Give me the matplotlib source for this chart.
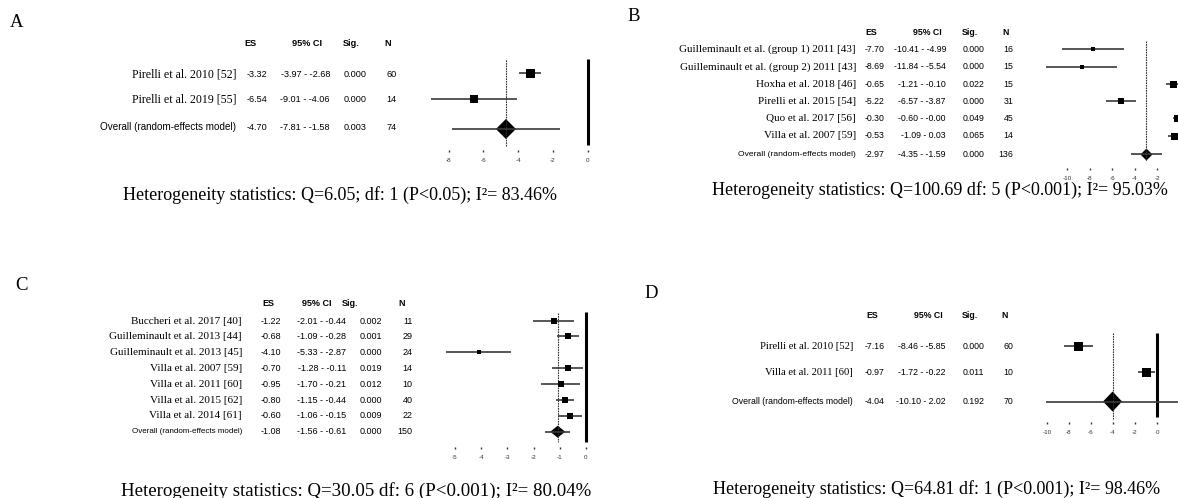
import matplotlib
matplotlib.use('Agg')
import matplotlib.pyplot as plt

W, H = 1178, 498
SERIF = 'Liberation Serif'
SANS = 'Liberation Sans'

# ---- data ----
# panel A
a_names = ['Pirelli et al. 2010 [52]', 'Pirelli et al. 2019 [55]']
a_es = [-3.32, -6.54]
a_lo = [-3.97, -9.01]
a_hi = [-2.68, -4.06]
a_sig = [0.000, 0.000]
a_n = [60, 14]
a_overall = [-4.70, -7.81, -1.58, 0.003, 74]
a_het = 'Heterogeneity statistics: Q=6.05; df: 1 (P<0.05); I²= 83.46%'
a_ticks = [-8, -6, -4, -2, 0]

# panel B
b_names = ['Guilleminault et al. (group 1) 2011 [43]',
           'Guilleminault et al. (group 2) 2011 [43]',
           'Hoxha et al. 2018 [46]', 'Pirelli et al. 2015 [54]',
           'Quo et al. 2017 [56]', 'Villa et al. 2007 [59]']
b_es = [-7.70, -8.69, -0.65, -5.22, -0.30, -0.53]
b_lo = [-10.41, -11.84, -1.21, -6.57, -0.60, -1.09]
b_hi = [-4.99, -5.54, -0.10, -3.87, -0.0, 0.03]
b_sig = [0.000, 0.000, 0.022, 0.000, 0.049, 0.065]
b_n = [16, 15, 15, 31, 45, 14]
b_overall = [-2.97, -4.35, -1.59, 0.000, 136]
b_het = 'Heterogeneity statistics: Q=100.69 df: 5 (P<0.001); I²= 95.03%'
b_ticks = [-10, -8, -6, -4, -2]

# panel C
c_names = ['Buccheri et al. 2017 [40]', 'Guilleminault et al. 2013 [44]',
           'Guilleminault et al. 2013 [45]', 'Villa et al. 2007 [59]',
           'Villa et al. 2011 [60]', 'Villa et al. 2015 [62]',
           'Villa et al. 2014 [61]']
c_es = [-1.22, -0.68, -4.10, -0.70, -0.95, -0.80, -0.60]
c_lo = [-2.01, -1.09, -5.33, -1.28, -1.70, -1.15, -1.06]
c_hi = [-0.44, -0.28, -2.87, -0.11, -0.21, -0.44, -0.15]
c_sig = [0.002, 0.001, 0.000, 0.019, 0.012, 0.000, 0.009]
c_n = [11, 29, 24, 14, 10, 40, 22]
c_overall = [-1.08, -1.56, -0.61, 0.000, 150]
c_het = 'Heterogeneity statistics: Q=30.05 df: 6 (P<0.001); I²= 80.04%'
c_ticks = [-5, -4, -3, -2, -1, 0]

# panel D
d_names = ['Pirelli et al. 2010 [52]', 'Villa et al. 2011 [60]']
d_es = [-7.16, -0.97]
d_lo = [-8.46, -1.72]
d_hi = [-5.85, -0.22]
d_sig = [0.000, 0.011]
d_n = [60, 10]
d_overall = [-4.04, -10.10, 2.02, 0.192, 70]
d_het = 'Heterogeneity statistics: Q=64.81 df: 1 (P<0.001); I²= 98.46%'
d_ticks = [-10, -8, -6, -4, -2, 0]

fig = plt.figure(figsize=(W / 100, H / 100), dpi=100)
bg = fig.add_axes([0, 0, 1, 1])
bg.set_xlim(0, W)
bg.set_ylim(H, 0)
bg.axis('off')


def panel(letter, names, es, lo, hi, sig, n, overall, het, ticks, lay):
    rows = lay['rows']
    oy = lay['overall_y']
    trows = lay.get('text_rows', rows)
    toy = lay.get('text_oy', oy)
    # letter and heterogeneity line
    bg.text(*lay['letter'], letter, family=SERIF, fontsize=13.5, ha='center', va='center')
    bg.text(*lay['het'], het, family=SERIF, fontsize=lay.get('fs_het', 13),
            ha='center', va='center')
    # column headers
    for x, s in zip(lay['head_x'], ['ES', '95% CI', 'Sig.', 'N']):
        bg.text(x, lay['head_y'], s, family=SANS, fontweight='bold',
                fontsize=lay['fs_val'], ha='center', va='center')
    cols = lay['cols']
    fv = lay['fs_val']
    for i, y in enumerate(trows):
        bg.text(cols[0], y, names[i], family=SERIF, fontsize=lay['fs_name'],
                ha='right', va='center')
        bg.text(cols[1], y, f'{es[i]:.2f}', family=SANS, fontsize=fv, ha='left', va='center')
        bg.text(cols[2], y, f'{lo[i]:.2f} - {hi[i]:.2f}', family=SANS, fontsize=fv,
                ha='right', va='center')
        bg.text(cols[3], y, f'{sig[i]:.3f}', family=SANS, fontsize=fv, ha='left', va='center')
        bg.text(cols[4], y, str(n[i]), family=SANS, fontsize=fv, ha='right', va='center')
    o_es, o_lo, o_hi, o_sig, o_n = overall
    bg.text(cols[0], toy, 'Overall (random-effects model)', family=SANS,
            fontsize=lay['fs_ov'], ha='right', va='center')
    bg.text(cols[1], toy, f'{o_es:.2f}', family=SANS, fontsize=fv, ha='left', va='center')
    bg.text(cols[2], toy, f'{o_lo:.2f} - {o_hi:.2f}', family=SANS, fontsize=fv,
            ha='right', va='center')
    bg.text(cols[3], toy, f'{o_sig:.3f}', family=SANS, fontsize=fv, ha='left', va='center')
    bg.text(cols[4], toy, str(o_n), family=SANS, fontsize=fv, ha='right', va='center')

    # forest plot axes, y in pixels, x in effect-size units
    L, T, R, B = lay['box']
    zero, unit = lay['zero'], lay['unit']
    ax = fig.add_axes([L / W, 1 - B / H, (R - L) / W, (B - T) / H])
    ax.set_xlim((L - zero) / unit, (R - zero) / unit)
    ax.set_ylim(B, T)
    ax.patch.set_alpha(0)
    for sp in ax.spines.values():
        sp.set_visible(False)
    ax.set_yticks([])
    ax.set_xticks(ticks)
    ax.set_xticklabels([str(t) for t in ticks])
    ax.tick_params(axis='x', length=1.6, width=1.0, pad=4, labelsize=4.5,
                   colors='#333333')
    for lab in ax.get_xticklabels():
        lab.set_fontfamily(SANS)

    vt, vb = lay['vline']
    ax.vlines(0, vt, vb, color='black', lw=2.2)
    dt, db = lay['dline']
    ax.vlines(o_es, dt, db, color='#333333', lw=0.8, linestyles=(0, (1.5, 0.8)))
    ax.hlines(rows, lo, hi, color='#3a3a3a', lw=1.2)
    for i, y in enumerate(rows):
        ax.plot(es[i], y, marker='s', ms=lay['sq'][i] * 0.72, mew=0,
                color='black', linestyle='none')
    ax.hlines(oy, o_lo, o_hi, color='#3a3a3a', lw=1.2)
    dw, dh = lay['diamond']
    hw = dw / 2 / unit
    ax.fill([o_es - hw, o_es, o_es + hw, o_es], [oy, oy - dh / 2, oy, oy + dh / 2],
            color='black', lw=0)


panel('A', a_names, a_es, a_lo, a_hi, a_sig, a_n, a_overall, a_het, a_ticks, dict(
    rows=[73, 99.5], overall_y=129, text_rows=[74, 99.5], text_oy=127,
    letter=(17, 22), het=(340, 195),
    head_y=43, head_x=[250.5, 307, 351.5, 388],
    cols=[236, 246.5, 330, 344, 396.5],
    fs_name=8.6, fs_val=6.6, fs_ov=7.1,
    box=(370, 55, 610, 150), zero=587.7, unit=17.4,
    vline=(59, 145), dline=(60, 146), sq=[9, 8], diamond=(20, 20)))

panel('B', b_names, b_es, b_lo, b_hi, b_sig, b_n, b_overall, b_het, b_ticks, dict(
    rows=[49.5, 66.7, 84, 101.3, 118.5, 135.7], overall_y=154.5, letter=(634, 16),
    het=(940, 190), head_y=32, head_x=[871, 927, 970, 1006],
    cols=[856, 865, 946, 963, 1013.6],
    fs_name=8.0, fs_val=6.3, fs_ov=6.1,
    box=(1030, 38, 1200, 168), zero=1180, unit=11.3,
    vline=(41, 161), dline=(41, 161), sq=[5, 4.5, 7, 6.5, 7, 7], diamond=(12, 12)))

panel('C', c_names, c_es, c_lo, c_hi, c_sig, c_n, c_overall, c_het, c_ticks, dict(
    rows=[321.5, 336.5, 352.5, 368, 384, 400, 415.7], overall_y=431.7,
    letter=(21, 285), het=(356, 491), fs_het=13.6,
    head_y=303, head_x=[268.5, 317, 350, 401.5],
    cols=[242, 261, 346, 360, 412.5],
    fs_name=8.0, fs_val=6.5, fs_ov=5.8,
    box=(430, 309, 610, 447), zero=586, unit=26.2,
    vline=(312, 442), dline=(313, 442), sq=[6, 6, 4.5, 5.5, 5.5, 6, 6], diamond=(15, 12)))

panel('D', d_names, d_es, d_lo, d_hi, d_sig, d_n, d_overall, d_het, d_ticks, dict(
    rows=[346, 372], overall_y=401.5, letter=(651, 293), het=(937, 489),
    head_y=315, head_x=[872, 928, 970, 1005],
    cols=[853, 865, 946, 963, 1013.6],
    fs_name=7.7, fs_val=6.3, fs_ov=6.3,
    box=(1035, 330, 1200, 422), zero=1157, unit=11.0,
    vline=(333, 417), dline=(333, 420), sq=[9, 9], diamond=(19, 20)))

fig.savefig('out.png', dpi=100)
